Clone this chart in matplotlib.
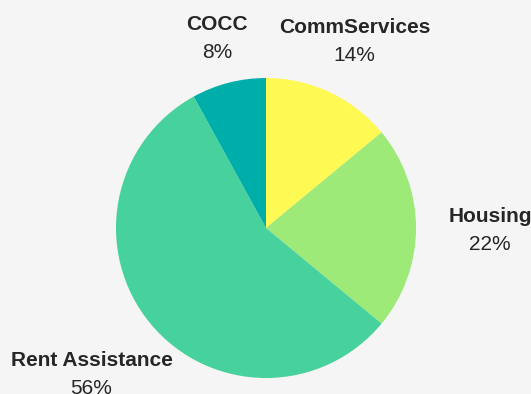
import numpy as np
import matplotlib.pyplot as plt

plt.rcParams['font.family'] = ['Liberation Sans', 'DejaVu Sans']

labels = ['CommServices', 'Housing', 'Rent Assistance', 'COCC']
shares = [14, 22, 56, 8]
colors = ['#fff953', '#9dea78', '#47d19c', '#00aea9']
# how far out each label sits, in pie radii
label_dist = [1.39, 1.495, 1.51, 1.32]

fig = plt.figure(figsize=(5.31, 3.94), dpi=100, facecolor='#f5f5f5')
ax = fig.add_axes([0, 0, 1, 1])
ax.set_facecolor('#f5f5f5')

cx, cy, R = 266, 166, 150
wedges, _ = ax.pie(shares, colors=colors, startangle=90, counterclock=False,
                   center=(cx, cy), radius=R, frame=True,
                   wedgeprops=dict(linewidth=0))
ax.set_xlim(0, 531)
ax.set_ylim(0, 394)
ax.set_aspect('equal')
ax.axis('off')

for w, name, val, d in zip(wedges, labels, shares, label_dist):
    ang = np.deg2rad((w.theta1 + w.theta2) / 2)
    x = cx + d * R * np.cos(ang)
    y = cy + d * R * np.sin(ang) - 2
    ax.text(x, y + 14, name, ha='center', va='center', fontsize=15,
            fontweight='bold', color='#262626')
    ax.text(x, y - 14, f'{val}%', ha='center', va='center', fontsize=15,
            color='#262626')

fig.savefig('out.png', dpi=100, facecolor=fig.get_facecolor())
